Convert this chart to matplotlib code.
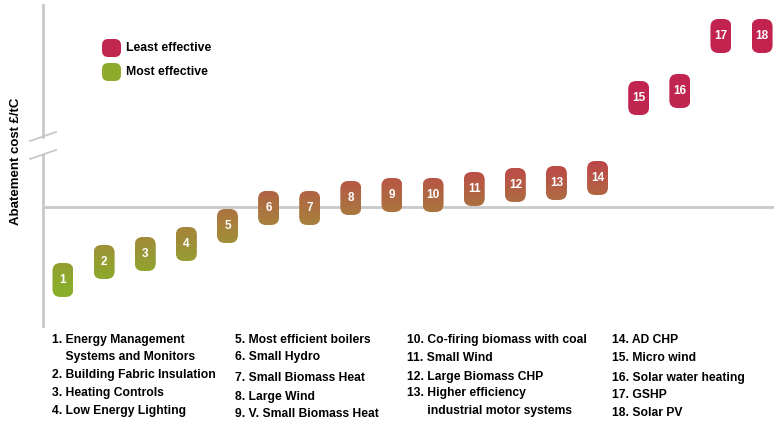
import matplotlib
matplotlib.use("Agg")
import matplotlib.pyplot as plt
import matplotlib.transforms as mtransforms
from matplotlib.patches import FancyBboxPatch
from matplotlib.colors import LinearSegmentedColormap, Normalize
import numpy as np

plt.rcParams['font.family'] = ['Liberation Sans Narrow', 'Liberation Sans', 'DejaVu Sans']

# abatement cost per measure (relative units, zero = break-even)
measure_ids = list(range(1, 19))
abatement_cost = [-73, -55, -47, -37, -19, -1, -1, 9, 12, 12, 18, 22, 24, 29,
                  109, 116, 171, 171]

# key below the chart, one list per column
key_col1 = ["1. Energy Management", "    Systems and Monitors", "2. Building Fabric Insulation",
            "3. Heating Controls", "4. Low Energy Lighting"]
key_col2 = ["5. Most efficient boilers", "6. Small Hydro", "7. Small Biomass Heat",
            "8. Large Wind", "9. V. Small Biomass Heat"]
key_col3 = ["10. Co-firing biomass with coal", "11. Small Wind", "12. Large Biomass CHP",
            "13. Higher efficiency", "      industrial motor systems"]
key_col4 = ["14. AD CHP", "15. Micro wind", "16. Solar water heating", "17. GSHP", "18. Solar PV"]

# colour ramp from cheap (green) to expensive (crimson)
ramp_values = [-90, -73, -19, 8, 29, 50, 92, 188]
ramp_colors = ["#88b02a", "#8caa2d", "#a8823c", "#ae6a42", "#b95546", "#bc4048", "#c02650", "#c2224e"]

W, H = 774, 423
fig = plt.figure(figsize=(W / 100, H / 100), dpi=100)
ax_left, ax_top, ax_bottom = 43, 5, 326
ax = fig.add_axes([ax_left / W, (H - ax_bottom) / H, (W - ax_left) / W, (ax_bottom - ax_top) / H])

xlim = (0.514, 18.29)
ylim = (-119, 202)
px_per_x = (W - ax_left) / (xlim[1] - xlim[0])
px_per_y = (ax_bottom - ax_top) / (ylim[1] - ylim[0])

lo, hi = ramp_values[0], ramp_values[-1]
cmap = LinearSegmentedColormap.from_list(
    "cost", [((v - lo) / (hi - lo), c) for v, c in zip(ramp_values, ramp_colors)])
norm = Normalize(lo, hi)

# rounded "pill" markers filled with a vertical gradient
box_w = 21 / px_per_x
box_h = 34 / px_per_y
radius = 8 / px_per_x
aspect = px_per_x / px_per_y
for n, cost in zip(measure_ids, abatement_cost):
    x0, y0 = n - box_w / 2, cost - box_h / 2
    patch = FancyBboxPatch((x0, y0), box_w, box_h,
                           boxstyle=f"round,pad=0,rounding_size={radius}",
                           mutation_aspect=aspect, facecolor="none", edgecolor="none")
    ax.add_patch(patch)
    grad = np.linspace(y0, y0 + box_h, 60).reshape(-1, 1)
    im = ax.imshow(grad, cmap=cmap, norm=norm, origin="lower", aspect="auto",
                   extent=(x0, x0 + box_w, y0, y0 + box_h), interpolation="bilinear", zorder=3)
    im.set_clip_path(patch)
    ax.text(n, cost, str(n), ha="center", va="center", color="white",
            fontsize=8.5, fontweight="bold", zorder=4)

ax.set_xlim(*xlim)
ax.set_ylim(*ylim)
ax.axis("off")

# zero line and broken y axis
axis_grey = "#c9c9c9"
ax.axhline(0, color=axis_grey, lw=2, zorder=1)
break_lo, break_hi = 52, 70
blend = mtransforms.blended_transform_factory(ax.transAxes, ax.transData)
ax.plot([0, 0], [ylim[0], break_lo], color=axis_grey, lw=2, transform=blend, clip_on=False)
ax.plot([0, 0], [break_hi, ylim[1]], color=axis_grey, lw=2, transform=blend, clip_on=False)
dx = 13 / (W - ax_left)
for yb in (break_lo, break_hi):
    ax.plot([-dx, dx], [yb - 4, yb + 5], color=axis_grey, lw=1.3, transform=blend, clip_on=False)

fig.text(16 / W, 1 - 161 / H, "Abatement cost £/tC", rotation=90, ha="center", va="center",
         fontsize=9.5, fontweight="bold")

# legend
for label, color, yy in (("Least effective", "#c0264f", 48), ("Most effective", "#8fab2e", 72)):
    fig.patches.append(FancyBboxPatch((102 / W, 1 - (yy + 9) / H), 19 / W, 18 / H,
                                      boxstyle="round,pad=0,rounding_size=0.008",
                                      mutation_aspect=W / H, transform=fig.transFigure,
                                      facecolor=color, edgecolor="none"))
    fig.text(126 / W, 1 - yy / H, label, ha="left", va="center", fontsize=8.8, fontweight="bold")

# key text
columns = [(52, key_col1, [340, 357, 375, 393, 411]),
           (235, key_col2, [340, 357, 378, 397, 414]),
           (407, key_col3, [340, 358, 377, 393, 411]),
           (612, key_col4, [340, 358, 378, 395, 413])]
for x, lines, ys in columns:
    for line, yy in zip(lines, ys):
        fig.text(x / W, 1 - yy / H, line, ha="left", va="center", fontsize=8.7, fontweight="bold")

fig.savefig("out.png", dpi=100)
